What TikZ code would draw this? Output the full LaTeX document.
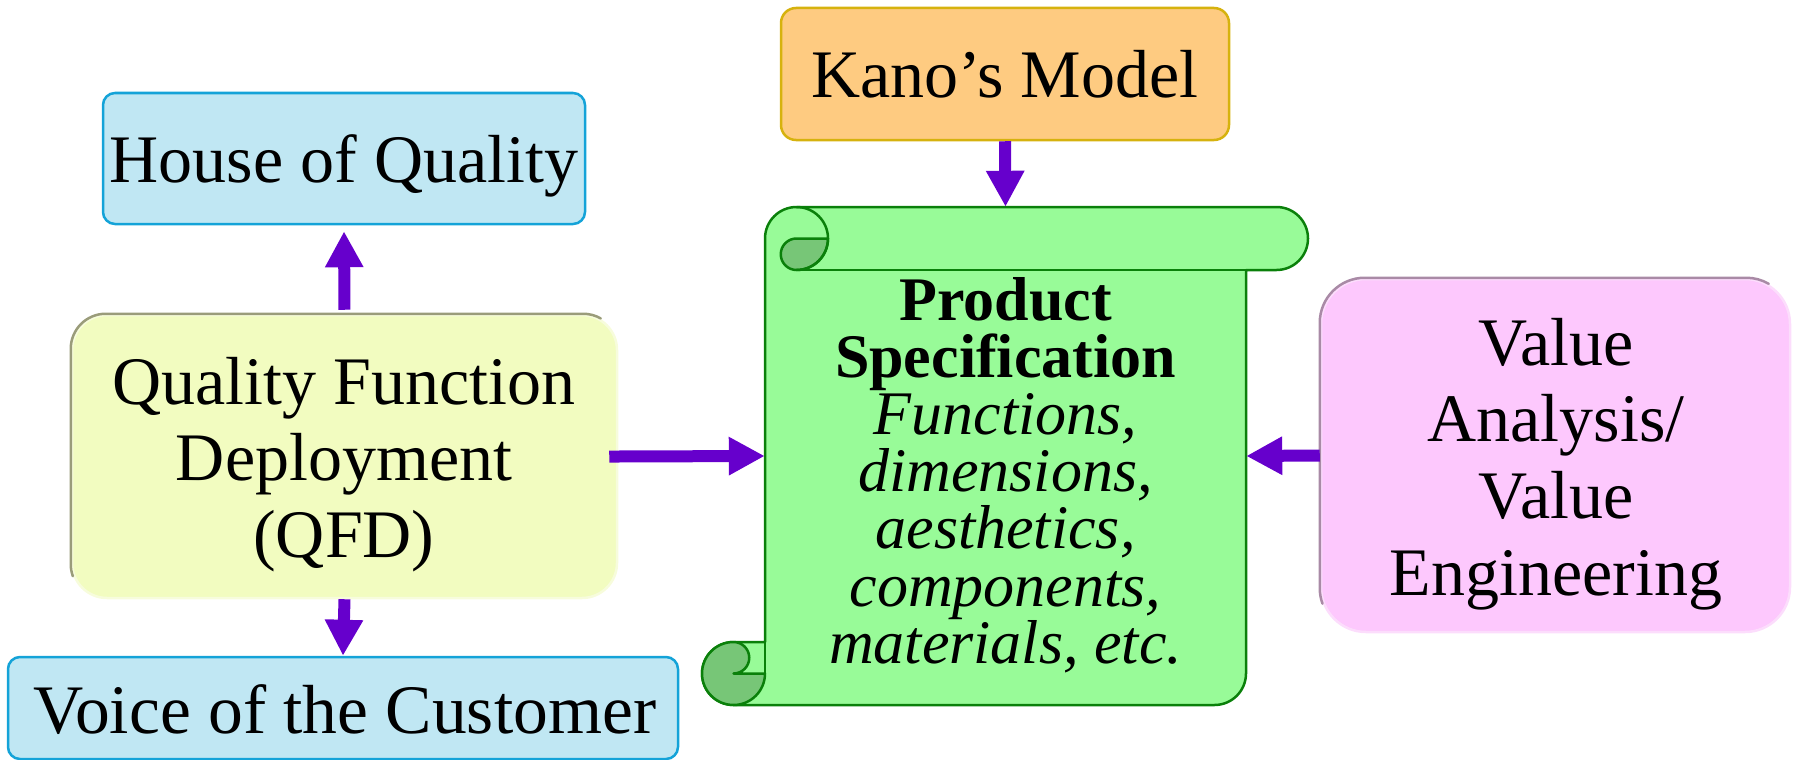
\documentclass[tikz,border=0pt]{standalone}
\usepackage{fontspec}
\setmainfont{Liberation Serif}
\usetikzlibrary{arrows.meta}

\definecolor{arrowpurple}{HTML}{6600CC}
\definecolor{bluefill}{HTML}{C0E7F3}
\definecolor{blueline}{HTML}{14A3D8}
\definecolor{kanofill}{HTML}{FECB81}
\definecolor{kanoline}{HTML}{D6B20E}
\definecolor{qfdfill}{HTML}{F2FCC0}
\definecolor{qfdline}{HTML}{9A9C7A}
\definecolor{qfdglow}{HTML}{F7FCDC}
\definecolor{pinkfill}{HTML}{FDC8FD}
\definecolor{pinkline}{HTML}{A98AA6}
\definecolor{pinkglow}{HTML}{FCDDFC}
\definecolor{scrollfill}{HTML}{98FB98}
\definecolor{scrolldark}{HTML}{77C677}
\definecolor{scrollstroke}{HTML}{0A800A}

% centred lines with a fixed distance between baselines; the baseline of the
% whole block is the baseline of its first line
\newcommand\textlines[2]{\vtop{\baselineskip=#1\lineskiplimit=-\maxdimen\lineskip=0pt
  \halign{\hfil##\hfil\cr#2\crcr}}}

\tikzset{
  arr/.style={line width=12pt, draw=arrowpurple, -{Triangle[length=36pt,width=36pt]}},
  boxbase/.style={rectangle, inner sep=0pt, line width=2.5pt},
  bluebox/.style={boxbase, rounded corners=12pt, fill=bluefill, draw=blueline},
  kanobox/.style={boxbase, rounded corners=15pt, fill=kanofill, draw=kanoline},
  qfdbox/.style={boxbase, rounded corners=35pt, fill=qfdfill, draw=qfdglow},
  pinkbox/.style={boxbase, rounded corners=45pt, fill=pinkfill, draw=pinkglow},
  bevel/.style={line width=2.5pt, line cap=round},
  boxtext/.style={inner sep=0pt, anchor=base, font=\fontsize{68}{76.5}\selectfont},
  scrolltext/.style={inner sep=0pt, anchor=base, font=\fontsize{62}{57}\selectfont},
  scrollpen/.style={draw=scrollstroke, line width=2.5pt, line join=round},
  darkpart/.style={scrollpen, fill=scrolldark},
}

\begin{document}
\begin{tikzpicture}[x=1pt,y=-1pt]
\useasboundingbox (0,0) rectangle (1797,760);

% ---------- boxes ----------
\node[bluebox, minimum width=482pt, minimum height=131pt] (hoq) at (344,158.5) {};
\node[bluebox, minimum width=670pt, minimum height=102pt] (voc) at (343,708) {};
\node[kanobox, minimum width=448pt, minimum height=132pt] (kano) at (1005,74) {};
\node[qfdbox, minimum width=545pt, minimum height=283pt] (qfd) at (344.5,456.5) {};
\node[pinkbox, minimum width=469pt, minimum height=353pt] (va) at (1555.5,455.5) {};

% darker upper-left rims of the two soft boxes
\draw[bevel, qfdline] ([yshift=35pt]qfd.south west)
  arc[start angle=180, end angle=200, radius=35pt]
  ([yshift=35pt]qfd.south west) -- ([yshift=-35pt]qfd.north west)
  arc[start angle=180, end angle=90, radius=35pt] -- ([xshift=-35pt]qfd.north east)
  arc[start angle=90, end angle=60, radius=35pt];
\draw[bevel, pinkline] ([yshift=45pt]va.south west)
  arc[start angle=180, end angle=200, radius=45pt]
  ([yshift=45pt]va.south west) -- ([yshift=-45pt]va.north west)
  arc[start angle=180, end angle=90, radius=45pt] -- ([xshift=-45pt]va.north east)
  arc[start angle=90, end angle=60, radius=45pt];

% ---------- the specification scroll ----------
\path[scrollpen, fill=scrollfill]
  (733.5,705) -- (1214.5,705) arc[start angle=270, end angle=360, radius=31.5pt]
  -- (1246,270) -- (1276.5,270) arc[start angle=-90, end angle=90, radius=31.5pt]
  -- (796.5,207) arc[start angle=90, end angle=180, radius=31.5pt]
  -- (765,642) -- (733.5,642) arc[start angle=90, end angle=270, radius=31.5pt] -- cycle;
% upper roll
\path[darkpart] (796.5,238.5) -- (828,238.5) arc[start angle=0, end angle=-90, radius=31.5pt]
  arc[start angle=-90, end angle=-270, radius=15.75pt] -- cycle;
\draw[scrollpen] (796.5,207) arc[start angle=90, end angle=-90, radius=31.5pt];
\draw[scrollpen] (796.5,270) -- (1246,270);
% lower roll
\path[darkpart] (733.5,642) arc[start angle=90, end angle=270, radius=31.5pt]
  arc[start angle=270, end angle=360, radius=31.5pt] -- (733.5,673.5)
  arc[start angle=-90, end angle=90, radius=15.75pt] -- cycle;
\draw[scrollpen] (765,642) -- (765,673.5);
% the sheet of the scroll, used as the target of the arrows
\node[inner sep=0pt, minimum width=481pt, minimum height=498pt] (spec) at (1005.5,456) {};

% ---------- texts ----------
\node[boxtext] (hoq-t) at (344,182) {House of Quality};
\node[boxtext] (voc-t) at (345,733) {\fontsize{69.5}{76.5}\selectfont Voice of the Customer};
\node[boxtext] (kano-t) at (1005,98) {Kano’s Model};
\node[boxtext] (qfd-t) at (344,404) {\textlines{76.5pt}{Quality Function\cr Deployment\cr (QFD)}};
\node[boxtext] (va-t) at (1556,365) {\textlines{76.8pt}{Value\cr Analysis/\cr Value\cr Engineering}};
\node[scrolltext] (spec-t) at (1005.5,320) {\textlines{57.2pt}{%
  {\bfseries Product}\cr
  {\bfseries Specification}\cr
  {\itshape Functions,}\cr
  {\itshape dimensions,}\cr
  {\itshape aesthetics,}\cr
  {\itshape components,}\cr
  {\itshape materials, etc.}}};

% ---------- arrows ----------
\draw[arr, shorten <=4pt, shorten >=6pt] (qfd.north) -- (hoq.south);
\draw[arr] (qfd.south) -- (voc.north);
\draw[arr, shorten <=-9pt] (qfd.east) -- (spec.west);
\draw[arr] (va.west) -- (spec.east);
\draw[arr] (kano.south) -- (spec.north);
\end{tikzpicture}
\end{document}
